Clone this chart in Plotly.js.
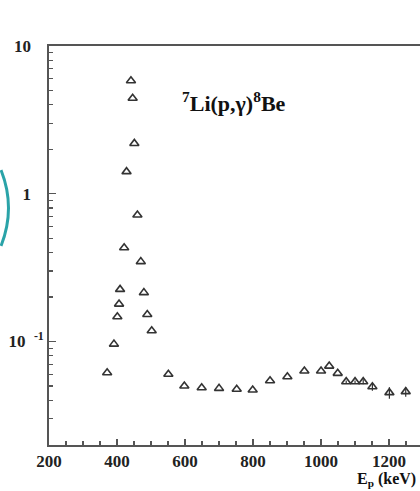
<!DOCTYPE html>
<html>
<head>
<meta charset="utf-8">
<script src="https://cdn.plot.ly/plotly-3.0.1.min.js"></script>
<style>html,body{margin:0;padding:0;background:#fff;overflow:hidden}</style>
</head>
<body>
<div id="chart" style="width:420px;height:491px"></div>
<script>
// Proton energy (keV)
const energy = [371, 391, 401, 406, 409, 421, 428, 441, 446, 451, 460, 470, 479, 489, 502,
  551, 598, 649, 700, 752, 799, 850, 901, 951, 1000, 1024, 1049, 1074, 1100, 1124, 1151, 1201, 1249];
// Yield (arb. units)
const yieldVals = [0.0614, 0.0959, 0.147, 0.179, 0.225, 0.431, 1.41, 5.82, 4.43, 2.19, 0.718, 0.347, 0.214, 0.152, 0.118,
  0.0599, 0.0499, 0.0486, 0.0481, 0.0474, 0.0469, 0.0542, 0.0577, 0.0631, 0.0631, 0.0681, 0.0608, 0.0534, 0.0534, 0.0534, 0.0493, 0.045, 0.0457];
const yieldErr = [0, 0, 0, 0, 0, 0, 0, 0, 0, 0, 0, 0, 0, 0, 0,
  0, 0, 0, 0, 0, 0, 0, 0, 0, 0, 0, 0, 0.001, 0.001, 0.002, 0.003, 0.004, 0.0035];

const xTickVals = [200, 400, 600, 800, 1000, 1200];
const xTickText = ['200', '400', '600', '800', '1000', '1200'];
const yTickVals = [0.1, 1, 10];
const yTickText = ['10\u00a0\u00a0<sup>-1</sup>', '1\u00a0\u00a0\u00a0', '10\u00a0\u00a0\u00a0'];
const yMinor = [0.03,0.04,0.05,0.06,0.07,0.08,0.09,0.2,0.3,0.4,0.5,0.6,0.7,0.8,0.9,2,3,4,5,6,7,8,9];

const font = {family: '"Liberation Serif", "Times New Roman", serif', size: 16, color: '#222'};

const trace = {
  x: energy, y: yieldVals, type: 'scatter', mode: 'markers',
  marker: {symbol: 'triangle-up-open', size: 8, color: '#333', line: {width: 1.6, color: '#333'}},
  error_y: {type: 'data', array: yieldErr, visible: true, thickness: 1.2, width: 0, color: '#333'},
  hoverinfo: 'x+y'
};

const layout = {
  width: 420, height: 491,
  margin: {l: 49, r: 0, t: 46, b: 46},
  paper_bgcolor: '#fff', plot_bgcolor: '#fff',
  showlegend: false,
  font: font,
  xaxis: {
    type: 'linear', range: [200, 1291],
    tickmode: 'array', tickvals: xTickVals, ticktext: xTickText,
    ticks: 'inside', ticklen: 6, tickwidth: 1.3, tickcolor: '#555',
    minor: {ticks: 'inside', dtick: 50, ticklen: 4, tickwidth: 1.2, tickcolor: '#555', showgrid: false},
    showline: true, linecolor: '#555', linewidth: 1.8, mirror: true,
    showgrid: false, zeroline: false,
    tickfont: {family: font.family, size: 17, color: '#222', weight: 'bold'}
  },
  yaxis: {
    type: 'log', range: [Math.log10(0.0199), 1],
    tickmode: 'array', tickvals: yTickVals, ticktext: yTickText,
    ticks: 'inside', ticklen: 7, tickwidth: 1.3, tickcolor: '#555',
    minor: {ticks: 'inside', tickmode: 'array', tickvals: yMinor, ticklen: 4, tickwidth: 1.2, tickcolor: '#555', showgrid: false},
    showline: true, linecolor: '#555', linewidth: 1.8, mirror: false,
    showgrid: false, zeroline: false,
    tickfont: {family: font.family, size: 17, color: '#222', weight: 'bold'}
  },
  annotations: [
    {xref: 'paper', yref: 'paper', x: (180 - 49) / 371, y: (445 - 102) / 399, xanchor: 'left', yanchor: 'middle',
     text: '<sup>7</sup>Li(p,γ)<sup>8</sup>Be', showarrow: false,
     font: {family: font.family, size: 22, color: '#111', weight: 'bold'}},
    {xref: 'paper', yref: 'paper', x: (355 - 49) / 371, y: (445 - 491) / 399, xanchor: 'left', yanchor: 'bottom',
     text: 'E<sub>p</sub> (keV)', showarrow: false,
     font: {family: font.family, size: 16, color: '#111', weight: 'bold'}}
  ],
  shapes: [
    {type: 'path', xref: 'paper', yref: 'paper',
     path: 'M ' + ((1 - 49) / 371) + ' ' + ((445 - 170) / 399) +
           ' Q ' + ((16 - 49) / 371) + ' ' + ((445 - 208) / 399) +
           ' ' + ((1 - 49) / 371) + ' ' + ((445 - 246) / 399),
     line: {color: '#2aa3a8', width: 3}}
  ]
};

Plotly.newPlot('chart', [trace], layout, {displayModeBar: false, staticPlot: true});
</script>
</body>
</html>
